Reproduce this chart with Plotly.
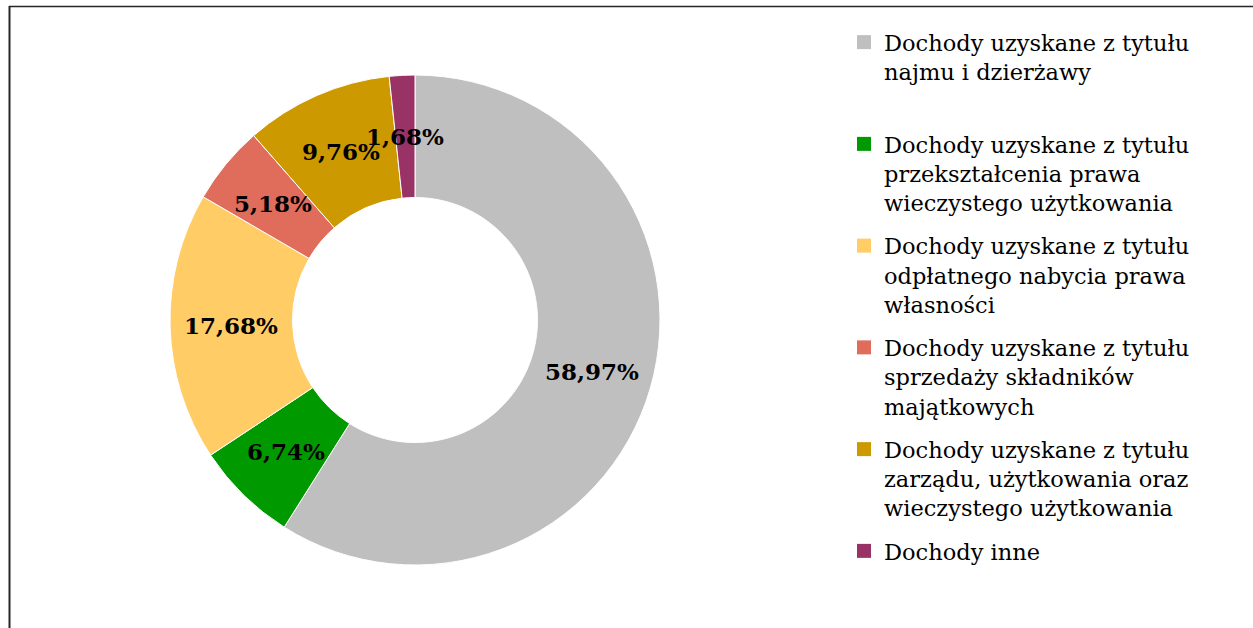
import math
import plotly.graph_objects as go

W, H = 1253, 628

categories = [
    "Dochody uzyskane z tytułu<br>najmu i dzierżawy",
    "Dochody uzyskane z tytułu<br>przekształcenia prawa<br>wieczystego użytkowania",
    "Dochody uzyskane z tytułu<br>odpłatnego nabycia prawa<br>własności",
    "Dochody uzyskane z tytułu<br>sprzedaży składników<br>majątkowych",
    "Dochody uzyskane z tytułu<br>zarządu, użytkowania oraz<br>wieczystego użytkowania",
    "Dochody inne",
]
values = [58.97, 6.74, 17.68, 5.18, 9.76, 1.68]
labels = ["58,97%", "6,74%", "17,68%", "5,18%", "9,76%", "1,68%"]
colors = ["#BFBFBF", "#009900", "#FFCC66", "#E06C5C", "#CC9900", "#993366"]

# pie geometry (pixels)
cx, cy, R = 415, 320, 245
hole = 0.5

fig = go.Figure()
fig.add_trace(go.Pie(
    labels=categories, values=values, sort=False, direction="clockwise",
    rotation=0, hole=hole, textinfo="none", hoverinfo="skip", showlegend=False,
    marker=dict(colors=colors, line=dict(color="white", width=1)),
    domain=dict(x=[(cx - R) / W, (cx + R) / W], y=[(H - cy - R) / H, (H - cy + R) / H]),
))

# legend entries (one per slice, so the gaps between entries can be set)
for i, (cat, col) in enumerate(zip(categories, colors)):
    name = cat + ("<br> " if i == 0 else "")
    fig.add_trace(go.Scatter(
        x=[None], y=[None], mode="markers", name=name, legendgroup=str(i),
        marker=dict(symbol="square", size=14, color=col), hoverinfo="skip",
    ))

# data labels at mid-radius of each slice, computed from values
total = sum(values)
cum = 0.0
rmid = R * (1 + hole) / 2
for v, t in zip(values, labels):
    mid = (cum + v / 2) / total * 2 * math.pi
    cum += v
    px = cx + rmid * math.sin(mid)
    py = cy - rmid * math.cos(mid)
    fig.add_annotation(x=px / W, y=1 - py / H, xref="paper", yref="paper",
                       xanchor="center", yanchor="middle",
                       text="<b>" + t + "</b>", showarrow=False,
                       font=dict(family="DejaVu Serif", size=23, color="black"))

# frame
fig.add_shape(type="line", xref="paper", yref="paper", x0=9.5 / W, x1=9.5 / W, y0=0, y1=1 - 6 / H,
              line=dict(color="#262626", width=2))
fig.add_shape(type="line", xref="paper", yref="paper", x0=9 / W, x1=1, y0=1 - 6.5 / H, y1=1 - 6.5 / H,
              line=dict(color="#262626", width=1.5))

fig.update_layout(
    width=W, height=H,
    margin=dict(l=0, r=0, t=0, b=0),
    paper_bgcolor="white", plot_bgcolor="white",
    xaxis=dict(visible=False), yaxis=dict(visible=False),
    showlegend=True,
    legend=dict(x=844 / W, y=1 - 21 / H, xanchor="left", yanchor="top", valign="top",
                traceorder="grouped", tracegroupgap=11,
                font=dict(family="DejaVu Serif", size=22.5, color="black"),
                bgcolor="rgba(0,0,0,0)"),
)

fig.write_html("out.html", config={"displayModeBar": False},
               post_script="document.body.style.margin='0';")
